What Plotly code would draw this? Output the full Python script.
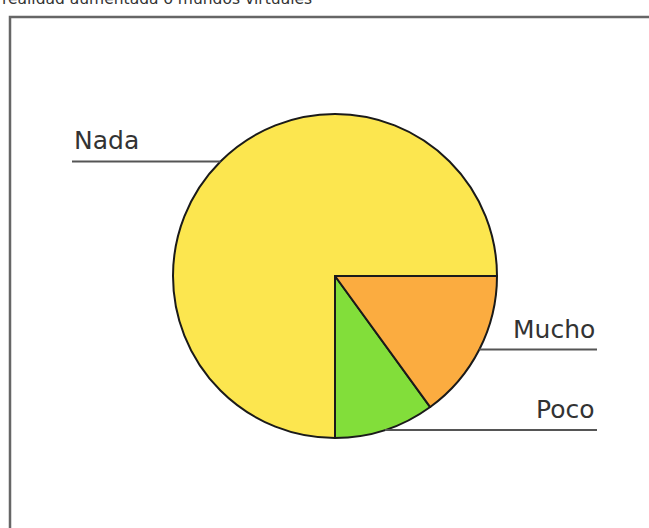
import math
import plotly.graph_objects as go

# Survey answers (percent of respondents)
categories = ["Nada", "Poco", "Mucho"]
values = [75, 10, 15]
colors = ["#FCE64F", "#82DE3A", "#FBAC40"]
title_text = "realidad aumentada o mundos virtuales"

W, H = 649, 528
CX, CY, R = 335, 276, 162          # pie centre and radius in pixels
LEFT_END, RIGHT_END = 72, 597      # where the label leader lines stop


def px(x):
    return x / W


def py(y):
    return 1 - y / H


# Counterclockwise from 3 o'clock: Nada, then Poco, then Mucho.
# In counterclockwise mode plotly ends the first slice at `rotation`
# (measured clockwise from 12 o'clock), so 180 puts that edge at 6 o'clock.
fig = go.Figure(
    go.Pie(
        labels=categories,
        values=values,
        sort=False,
        direction="counterclockwise",
        rotation=180,
        marker=dict(colors=colors, line=dict(color="#1a1a1a", width=2)),
        textinfo="none",
        hoverinfo="label+percent",
        showlegend=False,
        domain=dict(x=[px(CX - R), px(CX + R)], y=[py(CY + R), py(CY - R)]),
    )
)

shapes = []
annotations = []

# Leader lines leave each slice at its mid-angle and run horizontally to the label
total = sum(values)
start = 0.0
for name, v in zip(categories, values):
    span = 360.0 * v / total
    mid = math.radians(start + span / 2)
    start += span
    x0 = CX + R * math.cos(mid)
    y0 = CY - R * math.sin(mid)
    right = math.cos(mid) >= 0
    x1 = RIGHT_END if right else LEFT_END
    shapes.append(dict(type="line", xref="paper", yref="paper",
                       x0=px(x0), y0=py(y0), x1=px(x1), y1=py(y0),
                       line=dict(color="#555555", width=2)))
    annotations.append(dict(
        text=name, xref="paper", yref="paper",
        x=px(x1), y=py(y0 - 4),
        xanchor="right" if right else "left", yanchor="bottom",
        showarrow=False,
        font=dict(family="DejaVu Sans", size=25, color="#333333"),
    ))

# Frame around the chart area
shapes.append(dict(type="rect", xref="paper", yref="paper",
                   x0=px(10), y0=py(H + 20), x1=px(W + 20), y1=py(17),
                   line=dict(color="#666666", width=2.5)))

# Title text, partly above the visible area
annotations.append(dict(
    text=title_text, xref="paper", yref="paper",
    x=px(0), y=py(10), xanchor="left", yanchor="bottom",
    showarrow=False,
    font=dict(family="DejaVu Sans", size=15.5, color="#333333"),
))

fig.update_layout(
    width=W, height=H,
    margin=dict(l=0, r=0, t=0, b=0),
    paper_bgcolor="white",
    plot_bgcolor="white",
    shapes=shapes,
    annotations=annotations,
)

fig.write_html("out.html")
